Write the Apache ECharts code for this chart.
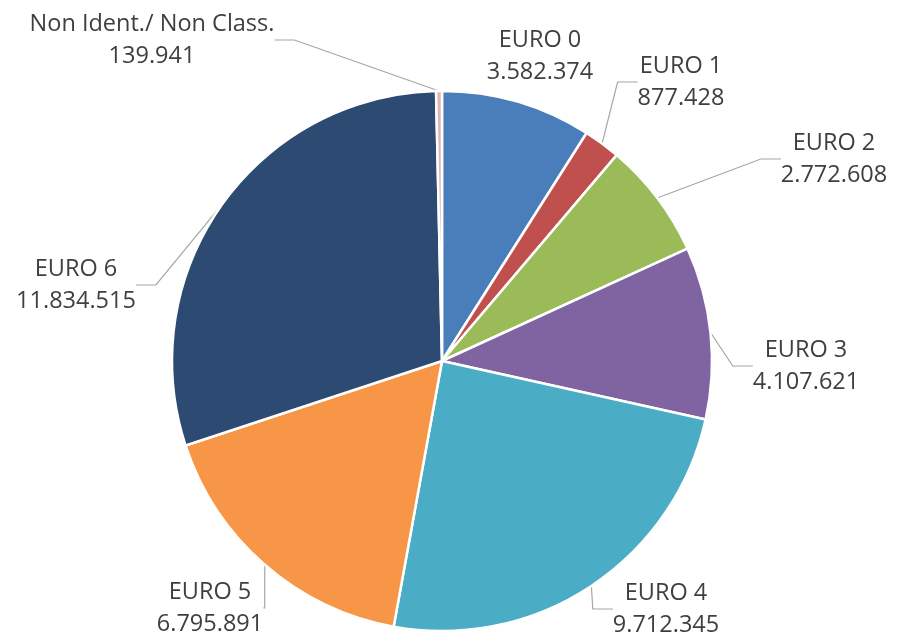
<!DOCTYPE html>
<html>
<head>
<meta charset="utf-8">
<script src="https://cdn.jsdelivr.net/npm/echarts@6/dist/echarts.min.js"></script>
<style>
  html, body { margin: 0; padding: 0; background: #fff; }
  #main { width: 898px; height: 635px; }
</style>
</head>
<body>
<div id="main"></div>
<script>
var chart = echarts.init(document.getElementById('main'));

// categorie e valori (veicoli per classe euro)
var categories = ['EURO 0', 'EURO 1', 'EURO 2', 'EURO 3', 'EURO 4', 'EURO 5', 'EURO 6', 'Non Ident./ Non Class.'];
var values = [3582374, 877428, 2772608, 4107621, 9712345, 6795891, 11834515, 139941];
var colors = ['#4a7ebb', '#c0504d', '#9bbb59', '#8064a2', '#4bacc6', '#f79646', '#2c4a72', '#e0b4b2'];

// posizione etichette (centro testo)
var labelPos = [
  [540, 56], [681, 82], [834, 159], [806, 366],
  [666, 609], [210, 608], [76, 285], [152, 40]
];

function fmt(n) {
  return String(n).replace(/\B(?=(\d{3})+(?!\d))/g, '.');
}

var pieData = categories.map(function (c, i) {
  var item = { name: c, value: values[i], itemStyle: { color: colors[i] } };
  if (i === 0) item.labelLine = { show: false };
  return item;
});

var option = {
  backgroundColor: '#fff',
  animation: false,
  series: [{
    type: 'pie',
    center: [442, 361],
    radius: 270,
    startAngle: 90,
    clockwise: true,
    itemStyle: { borderColor: '#fff', borderWidth: 2.5 },
    label: {
      show: true,
      position: 'outside',
      color: '#3f3f3f',
      fontSize: 23.5,
      fontFamily: 'Open Sans',
      lineHeight: 32,
      align: 'center',
      formatter: function (p) {
        return p.name + '\n' + fmt(p.value);
      }
    },
    labelLine: {
      show: true,
      length: 20,
      length2: 20,
      lineStyle: { color: '#a6a6a6', width: 1.2 }
    },
    labelLayout: function (params) {
      var pos = labelPos[params.dataIndex];
      return { x: pos[0], y: pos[1], align: 'center', verticalAlign: 'middle' };
    },
    data: pieData
  }]
};

chart.setOption(option);
</script>
</body>
</html>
